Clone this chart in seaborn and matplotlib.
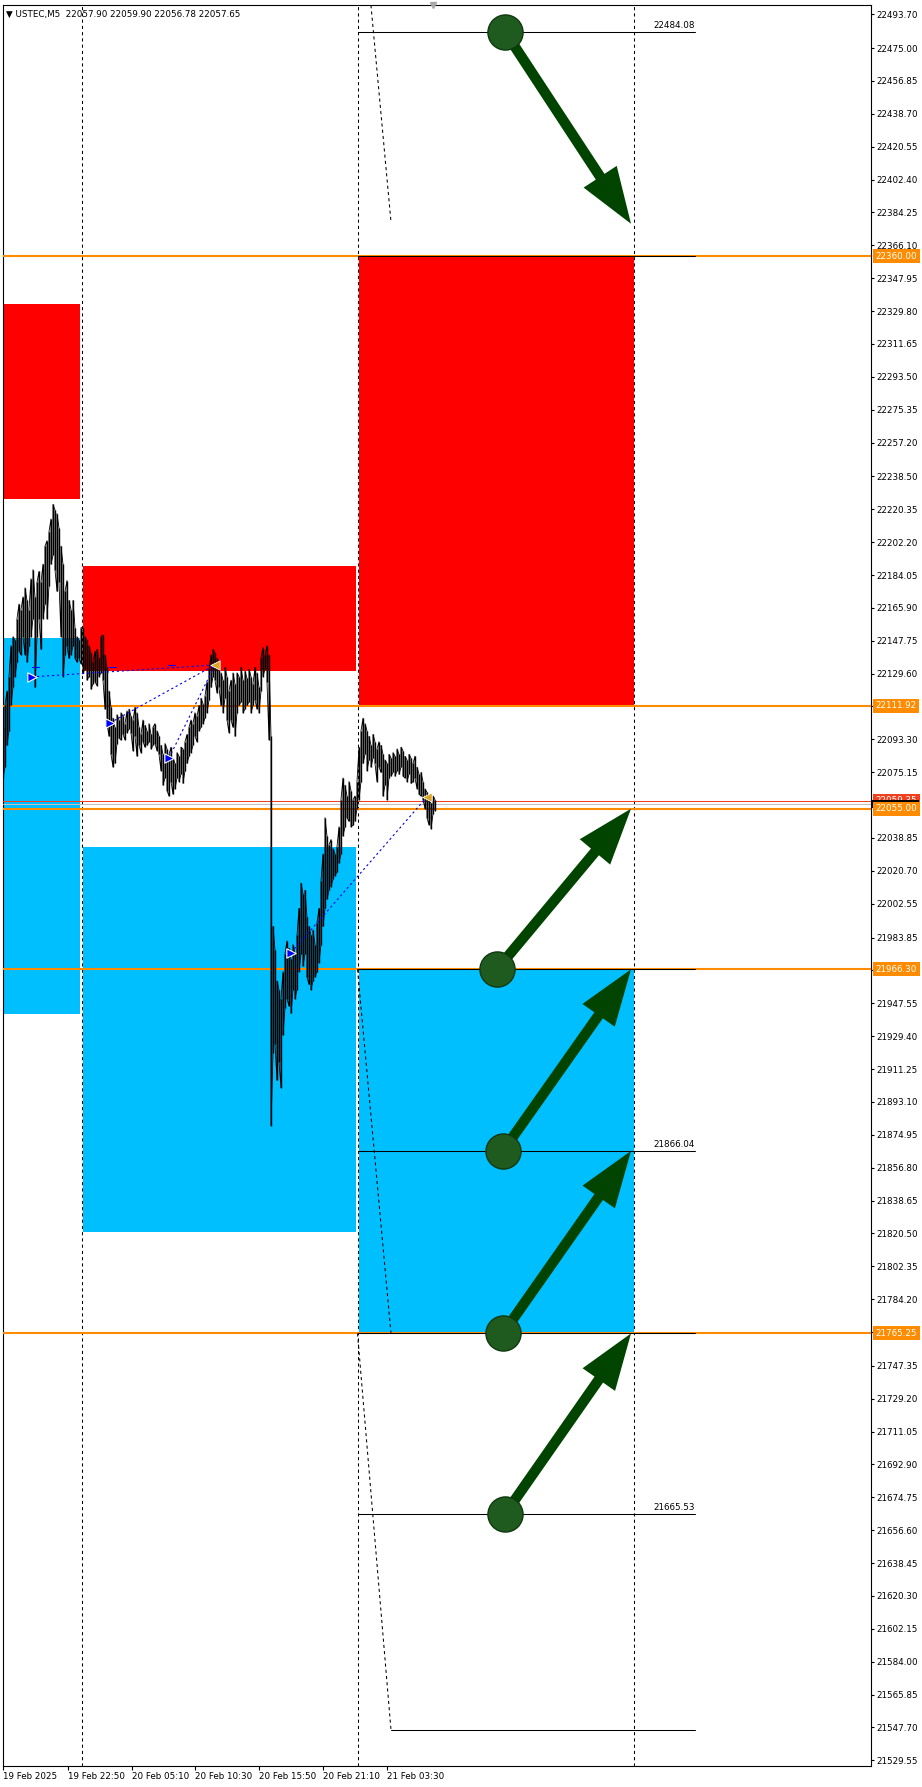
import numpy as np
import pandas as pd
import matplotlib
matplotlib.use('Agg')
import matplotlib.pyplot as plt
import matplotlib.transforms as mtransforms
from matplotlib.patches import Rectangle
import seaborn as sns

# price path: bar index (1 px = 1 bar), high, low
bar_x = list(range(0, 434, 2))
bar_hi = [22100, 22112, 22120, 22128, 22145, 22150, 22148, 22160, 22168, 22165,
          22172, 22177, 22170, 22165, 22182, 22187, 22172, 22180, 22186, 22180,
          22190, 22200, 22203, 22208, 22215, 22223, 22220, 22218, 22210, 22200,
          22190, 22175, 22181, 22170, 22165, 22170, 22155, 22150, 22148, 22155,
          22155, 22150, 22148, 22145, 22141, 22136, 22142, 22143, 22138, 22150,
          22151, 22140, 22133, 22120, 22111, 22105, 22100, 22107, 22104, 22108,
          22106, 22102, 22109, 22110, 22106, 22104, 22111, 22108, 22100, 22096,
          22104, 22101, 22098, 22102, 22096, 22100, 22102, 22098, 22095, 22090,
          22085, 22091, 22088, 22085, 22089, 22083, 22080, 22086, 22084, 22089,
          22088, 22092, 22096, 22100, 22104, 22102, 22108, 22106, 22112, 22116,
          22113, 22117, 22125, 22132, 22140, 22143, 22141, 22138, 22136, 22130,
          22126, 22133, 22128, 22120, 22126, 22130, 22124, 22130, 22128, 22133,
          22126, 22131, 22127, 22132, 22128, 22124, 22133, 22130, 22122, 22138,
          22144, 22140, 22145, 22140, 22095, 21990, 21977, 21960, 21955, 21950,
          21965, 21975, 21982, 21978, 21972, 21980, 21975, 21985, 22000, 22014,
          22008, 22010, 21995, 21990, 21985, 21988, 21980, 21992, 22000, 22015,
          22030, 22050, 22040, 22035, 22038, 22033, 22030, 22034, 22045, 22060,
          22072, 22068, 22062, 22070, 22065, 22060, 22062, 22070, 22089, 22098,
          22105, 22102, 22098, 22095, 22090, 22096, 22092, 22088, 22092, 22090,
          22085, 22082, 22080, 22085, 22083, 22086, 22084, 22088, 22085, 22089,
          22087, 22084, 22082, 22085, 22083, 22080, 22084, 22078, 22074, 22075,
          22070, 22066, 22064, 22060, 22058, 22062, 22060]
bar_lo = [22072, 22078, 22090, 22098, 22112, 22122, 22128, 22136, 22142, 22140,
          22150, 22140, 22136, 22145, 22150, 22160, 22122, 22150, 22160, 22143,
          22160, 22168, 22160, 22178, 22190, 22195, 22187, 22175, 22180, 22150,
          22128, 22140, 22145, 22138, 22140, 22145, 22138, 22136, 22138, 22135,
          22130, 22132, 22126, 22128, 22121, 22124, 22125, 22123, 22128, 22130,
          22126, 22110, 22102, 22095, 22085, 22078, 22080, 22091, 22094, 22093,
          22096, 22093, 22097, 22099, 22097, 22087, 22095, 22084, 22090, 22086,
          22092, 22089, 22090, 22092, 22088, 22090, 22091, 22087, 22085, 22076,
          22068, 22072, 22065, 22062, 22070, 22063, 22066, 22072, 22070, 22074,
          22069, 22076, 22080, 22084, 22086, 22090, 22095, 22092, 22098, 22100,
          22102, 22105, 22108, 22115, 22122, 22128, 22126, 22119, 22122, 22112,
          22108, 22116, 22104, 22097, 22104, 22100, 22095, 22108, 22112, 22114,
          22108, 22110, 22112, 22114, 22108, 22112, 22115, 22110, 22108, 22120,
          22128, 22132, 22125, 22093, 21880, 21920, 21925, 21905, 21915, 21901,
          21930, 21945, 21950, 21946, 21942, 21955, 21950, 21955, 21965, 21975,
          21968, 21975, 21962, 21958, 21955, 21960, 21962, 21965, 21970, 21980,
          21990, 22000, 22005, 22010, 22012, 22016, 22018, 22020, 22025, 22030,
          22040, 22045, 22050, 22048, 22045, 22046, 22048, 22055, 22060, 22070,
          22080, 22085, 22076, 22082, 22078, 22083, 22080, 22070, 22078, 22075,
          22062, 22068, 22060, 22072, 22073, 22075, 22073, 22076, 22074, 22078,
          22073, 22072, 22070, 22074, 22069, 22070, 22072, 22066, 22063, 22062,
          22060, 22055, 22050, 22046, 22044, 22052, 22054]

# zones
box_x0 = [-5, -5, 79.5, 79.5, 355.5, 355.5]
box_x1 = [77, 77, 353, 353, 630.5, 630.5]
box_top = [22333.6, 22149.3, 22189.1, 22033.6, 22360.00, 21966.30]
box_bot = [22226.1, 21941.5, 22131.1, 21821.3, 22111.92, 21765.25]
box_kind = ['supply', 'demand', 'supply', 'demand', 'supply', 'demand']

orange_levels = [22360.00, 22111.92, 22055.00, 21966.30, 21765.25]
ask_price = 22059.35
bid_price = 22057.65

separators = [78.5, 354.5, 630.5]

# black level lines (start bar, end bar, price, label)
lvl_x0 = [354.5, 354.5, 354.5, 354.5, 354.5, 354.5, 388]
lvl_x1 = [692, 692, 692, 692, 692, 692, 692]
lvl_price = [22484.08, 22360.00, 21966.30, 21866.04, 21765.25, 21665.53, 21546.3]
lvl_label = ['22484.08', '', '', '21866.04', '', '21665.53', '']

# dashed projection lines
proj_x0 = [354.5, 354.5, 354.5]
proj_x1 = [388, 388, 388]
proj_p0 = [22579.0, 21966.30, 21765.25]
proj_p1 = [22379.0, 21765.25, 21546.3]

# trades: entry (bar, price) -> exit (bar, price)
entry_x = [29, 107, 166, 288]
entry_p = [22127.8, 22102.4, 22083.0, 21975.5]
exit_x = [212, 212, 212, 424]
exit_p = [22134.4, 22134.4, 22134.4, 22061.5]
close_x = [212, 424]
close_p = [22134.4, 22061.5]
tp_x0 = [29, 106, 165]
tp_x1 = [36, 113, 172]
tp_p = [22133.3, 22133.3, 22134.4]

# green arrows: circle (start) -> tip
arr_x0 = [502, 494, 500, 500, 502]
arr_p0 = [22484.08, 21966.30, 21866.04, 21765.25, 21665.53]
arr_x1 = [628, 628, 628, 628, 628]
arr_p1 = [22378.0, 22055.00, 21966.30, 21866.04, 21765.25]

# axis labels
ytick_vals = [22493.70, 22475.00, 22456.85, 22438.70, 22420.55, 22402.40, 22384.25, 22366.10,
              22347.95, 22329.80, 22311.65, 22293.50, 22275.35, 22257.20, 22238.50, 22220.35,
              22202.20, 22184.05, 22165.90, 22147.75, 22129.60, 22111.45, 22093.30, 22075.15,
              22057.00, 22038.85, 22020.70, 22002.55, 21983.85, 21965.70, 21947.55, 21929.40,
              21911.25, 21893.10, 21874.95, 21856.80, 21838.65, 21820.50, 21802.35, 21784.20,
              21766.05, 21747.35, 21729.20, 21711.05, 21692.90, 21674.75, 21656.60, 21638.45,
              21620.30, 21602.15, 21584.00, 21565.85, 21547.70, 21529.55]
xtick_vals = [0, 64.5, 128.5, 192, 256, 320, 384]
xtick_labels = ['19 Feb 2025', '19 Feb 22:50', '20 Feb 05:10', '20 Feb 10:30',
                '20 Feb 15:50', '20 Feb 21:10', '21 Feb 03:30']
header = '\u25bc USTEC,M5  22057.90 22059.90 22056.78 22057.65'

RED = '#FF0000'
BLUE = '#00BFFF'
ORANGE = '#FF8C00'
GREEN = '#004400'
FS = 6.3

sns.set_theme(style='white')
plt.rcParams['font.family'] = ['DejaVu Sans']

fig = plt.figure(figsize=(9.22, 17.87), dpi=100)
fig.patch.set_facecolor('white')
ax = fig.add_axes([3 / 922, 1 - 1766 / 1787, 868 / 922, 1761 / 1787])
ax.set_facecolor('white')
ax.set_xlim(0, 868)
ax.set_ylim(21526.4, 22498.8)

for x0, x1, t, b, k in zip(box_x0, box_x1, box_top, box_bot, box_kind):
    ax.add_patch(Rectangle((x0, b), x1 - x0, t - b, fc=RED if k == 'supply' else BLUE,
                           ec='none', zorder=1))

for x in separators:
    ax.axvline(x, color='black', lw=0.75, ls=(0, (3, 3)), zorder=2)

for p in orange_levels:
    ax.axhline(p, color=ORANGE, lw=1.5, zorder=3)
ax.axhline(ask_price, color='#F04020', lw=0.75, zorder=3)
ax.axhline(bid_price, color='#C0C0C0', lw=0.75, zorder=3)

off = mtransforms.offset_copy(ax.transData, fig=fig, y=1.2, units='points')
for x0, x1, p, lab in zip(lvl_x0, lvl_x1, lvl_price, lvl_label):
    ax.plot([x0, x1], [p, p], color='black', lw=0.75, zorder=4)
    if lab:
        ax.text(x1, p, lab, transform=off, ha='right', va='bottom', fontsize=FS,
                color='black', zorder=4)

for x0, x1, p0, p1 in zip(proj_x0, proj_x1, proj_p0, proj_p1):
    ax.plot([x0, x1], [p0, p1], color='black', lw=0.75, ls=(0, (3, 3)), zorder=4)

# price bars
n = len(bar_x)
zz_x = np.repeat(bar_x, 2)
zz_y = []
for i in range(n):
    if i % 2 == 0:
        zz_y += [bar_hi[i], bar_lo[i]]
    else:
        zz_y += [bar_lo[i], bar_hi[i]]
price = pd.DataFrame({'bar': zz_x, 'price': zz_y})
sns.lineplot(data=price, x='bar', y='price', sort=False, estimator=None,
             color='black', lw=0.6, ax=ax, zorder=5)
ax.vlines(bar_x, bar_lo, bar_hi, color='black', lw=1.0, zorder=5)

# trades
for x0, p0, x1, p1 in zip(entry_x, entry_p, exit_x, exit_p):
    ax.plot([x0, x1], [p0, p1], color='#0000FF', lw=0.8, ls=(0, (2, 2.5)), zorder=6)
for x0, x1, p in zip(tp_x0, tp_x1, tp_p):
    ax.plot([x0, x1], [p, p], color='#0000FF', lw=0.8, zorder=6)
ax.scatter(entry_x, entry_p, marker='>', s=45, color='#0000FF', edgecolor='white',
           linewidth=0.8, zorder=7)
ax.scatter(close_x, close_p, marker='<', s=45, color='#DAA520',
           edgecolor='white', linewidth=0.6, zorder=7)

# green arrows
for x0, p0, x1, p1 in zip(arr_x0, arr_p0, arr_x1, arr_p1):
    ax.annotate('', xy=(x1, p1), xytext=(x0, p0),
                arrowprops=dict(arrowstyle='simple,head_length=1.35,head_width=0.95,tail_width=0.25',
                                mutation_scale=30, fc=GREEN, ec='none', shrinkA=0, shrinkB=0),
                zorder=8)
ax.scatter(arr_x0, arr_p0, s=640, color='#1F5A1F', edgecolor='#0F3A0F', linewidth=1.0, zorder=9)

# axes / ticks
for s in ax.spines.values():
    s.set_color('black')
    s.set_linewidth(0.8)
    s.set_visible(True)
ax.yaxis.tick_right()
ax.set_yticks(ytick_vals)
ax.set_yticklabels([f'{v:.2f}' for v in ytick_vals])
ax.set_xticks(xtick_vals)
ax.set_xticklabels(xtick_labels, ha='left')
ax.tick_params(axis='y', direction='out', length=2.5, width=0.8, pad=1.5, labelsize=FS,
               colors='black', right=True, left=False)
ax.tick_params(axis='x', direction='out', length=3, width=0.8, pad=1.5, labelsize=FS,
               colors='black', bottom=True)
ax.set_xlabel('')
ax.set_ylabel('')
ax.grid(False)

# price labels on the right axis (ask tag sits under the bid/level tags, as in the terminal)
btrans = mtransforms.blended_transform_factory(ax.transAxes, ax.transData)
ax.text(1.0055, ask_price, f'{ask_price:.2f}', transform=btrans, ha='left', va='center',
        fontsize=FS, color='white', zorder=10, clip_on=False,
        bbox=dict(boxstyle='square,pad=0.28', fc='#F04020', ec='none'))
ax.add_patch(Rectangle((1.0015, bid_price - 2.2), 0.054, 4.4, transform=btrans,
                       fc='black', ec='none', zorder=10.5, clip_on=False))
for p in orange_levels:
    ax.text(1.0055, p, f'{p:.2f}', transform=btrans, ha='left', va='center', fontsize=FS,
            color='white', zorder=11, clip_on=False,
            bbox=dict(boxstyle='square,pad=0.28', fc=ORANGE, ec='none'))

# header and chart-shift marker
fig.text(6 / 922, 1 - 14 / 1787, header, ha='left', va='center', fontsize=FS, color='black')
ax.plot([430], [1.0], transform=mtransforms.blended_transform_factory(ax.transData, ax.transAxes),
        marker='v', ms=5, color='#A8A8A8', clip_on=False, zorder=10)

fig.savefig('out.png', dpi=100, facecolor='white')
